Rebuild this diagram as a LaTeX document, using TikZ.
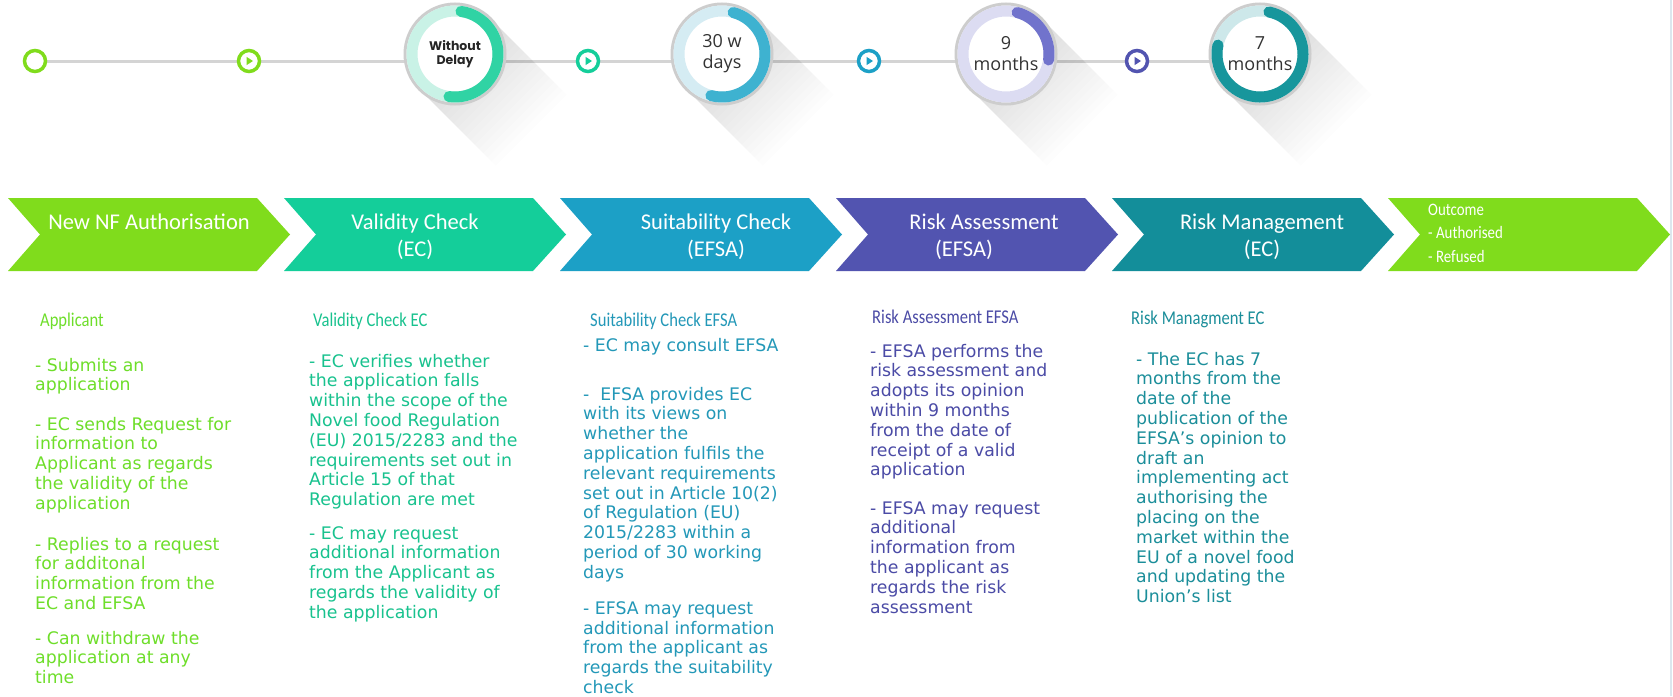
\documentclass[tikz,border=0pt]{standalone}
\usepackage{fontspec}
\setmainfont{DejaVu Sans}
\newfontfamily\headfont{Carlito}
\newfontfamily\condfont[FakeStretch=0.85]{Carlito}
\newfontfamily\popfont{Poppins}
\newfontfamily\numfont{Open Sans}
\definecolor{cLime}{HTML}{80DC1C}
\definecolor{cMint}{HTML}{14CE9A}
\definecolor{cSky}{HTML}{1CA0C6}
\definecolor{cIndigo}{HTML}{5254B0}
\definecolor{cTeal}{HTML}{138E9A}
\definecolor{tLime}{HTML}{6EDE2A}
\definecolor{tMint}{HTML}{18C28E}
\definecolor{tSky}{HTML}{2398B8}
\definecolor{tIndigo}{HTML}{4B4BA6}
\definecolor{tTeal}{HTML}{1B8E9A}
\definecolor{lineGray}{HTML}{D4D4D4}
\definecolor{ringGray}{HTML}{CDCDCD}
\definecolor{rimBlue}{HTML}{DCE6EE}
\definecolor{lMint}{HTML}{C9F2E6}
\definecolor{dMint}{HTML}{30D3A4}
\definecolor{lSky}{HTML}{D5ECF3}
\definecolor{dSky}{HTML}{3EB2D0}
\definecolor{lIndigo}{HTML}{DCDCF2}
\definecolor{dIndigo}{HTML}{7173CC}
\definecolor{lTeal}{HTML}{CDE8EA}
\definecolor{dTeal}{HTML}{17969C}
\tikzset{
  chevtext/.style={font=\headfont\fontsize{22.5}{26}\selectfont, text=white, inner sep=0, anchor=base},
  outtext/.style={font=\condfont\fontsize{17.5}{21}\selectfont, text=white, inner sep=0, anchor=base west},
  heading/.style={font=\condfont\fontsize{19.5}{22}\selectfont, anchor=base west, inner sep=0},
  body/.style={font=\fontsize{17.3}{19.8}\selectfont, anchor=base west, align=left, inner sep=0},
  tdot/.style={circle, draw=#1, line width=3.5pt, fill=white, minimum size=21pt, inner sep=0},
  dialrim/.style={circle, draw=ringGray, line width=3pt, fill=white, minimum size=100pt, inner sep=0},
  bigtxt/.style={font=\numfont\fontsize{18}{21}\selectfont, text=black!80, align=center, inner sep=0},
}
\newcommand\dialshadow[2]{%
  \foreach \L in {6,12,...,108}{%
    \fill[black, opacity=0.008] ({#1+35.4},{#2-35.4}) -- ++({\L*0.707},{\L*0.707}) -- ++(-70.8,70.8) -- ({#1-35.4},{#2+35.4}) -- cycle;}%
}
\newcommand\dialring[5]{% name, light, dark, start, end (visual degrees)
  \draw[#2, line width=11pt] (#1.center) circle[radius=43];
  \draw[#3, line width=11pt, line cap=round] (#1.center) ++({-1*(#4)}:43) arc[start angle={-1*(#4)}, end angle={-1*(#5)}, radius=43];
}
\newcommand\playmark[2]{%
  \fill[#2, shift={(#1.center)}] (-2.5,-4.2) -- (4,0) -- (-2.5,4.2) -- cycle;
}
\begin{document}
\begin{tikzpicture}[x=1pt,y=-1pt]
\useasboundingbox (0,0) rectangle (1673,696);
\fill[white] (0,0) rectangle (1673,696);
\draw[rimBlue, line width=1.5pt] (1671,0) -- (1671,696);

% ---------- timeline ----------
\coordinate (tstart) at (35,61);
\coordinate (tend) at (1260,61);
\draw[lineGray, line width=3pt] (tstart) -- (tend);

\dialshadow{455}{54}
\dialshadow{722}{54}
\dialshadow{1006}{54}
\dialshadow{1260}{54}

\node[dialrim] (b1) at (455,54) {};
\dialring{b1}{lMint}{dMint}{82}{-98}
\node[font=\popfont\bfseries\fontsize{12.5}{14}\selectfont, text=black!85, align=center, inner sep=0] (b1t) at (b1.center) {Without\\Delay};

\node[dialrim] (b2) at (722,54) {};
\dialring{b2}{lSky}{dSky}{75}{-105}
\node[bigtxt] (b2t) at (b2.center) {30 w\\days};

\node[dialrim] (b3) at (1006,54) {};
\dialring{b3}{lIndigo}{dIndigo}{75}{-8}
\node[bigtxt] (b3t) at (b3.center) {9\\months};

\node[dialrim] (b4) at (1260,54) {};
\dialring{b4}{lTeal}{dTeal}{78}{-192}
\node[bigtxt] (b4t) at (b4.center) {7\\months};

\node[tdot=cLime] (s1) at (35,61) {};
\node[tdot=cLime] (s2) at (249,61) {};
\playmark{s2}{cLime}
\node[tdot=cMint] (s3) at (588,61) {};
\playmark{s3}{cMint}
\node[tdot=cSky] (s4) at (869,61) {};
\playmark{s4}{cSky}
\node[tdot=cIndigo] (s5) at (1137,61) {};
\playmark{s5}{cIndigo}

% ---------- chevrons ----------
\foreach \x/\c in {8/cLime, 284/cMint, 560/cSky, 836/cIndigo, 1112/cTeal, 1388/cLime}{
  \fill[\c] (\x,198) -- ({\x+249},198) -- ({\x+282},234.5) -- ({\x+249},271) -- (\x,271) -- ({\x+32},234.5) -- cycle;
}
\node[chevtext] (c1a) at (149,229) {New NF Authorisation};
\node[chevtext] (c2a) at (415,229) {Validity Check};
\node[chevtext] (c2b) at (415,256) {(EC)};
\node[chevtext] (c3a) at (716,229) {Suitability Check};
\node[chevtext] (c3b) at (716,256) {(EFSA)};
\node[chevtext] (c4a) at (984,229) {Risk Assessment};
\node[chevtext] (c4b) at (964,256) {(EFSA)};
\node[chevtext] (c5a) at (1262,229) {Risk Management};
\node[chevtext] (c5b) at (1262,256) {(EC)};
\node[outtext] (c6a) at (1428,215) {Outcome};
\node[outtext] (c6b) at (1428,238) {- Authorised};
\node[outtext] (c6c) at (1428,262) {- Refused};

% ---------- column 1 (anchor = baseline of last line) ----------
\node[heading, text=tLime] (h1) at (40,326) {Applicant};
\node[body, text=tLime] (p11) at (35,390.8) {- Submits an\\application};
\node[body, text=tLime] (p12) at (35,509.2) {- EC sends Request for\\information to\\Applicant as regards\\the validity of the\\application};
\node[body, text=tLime] (p13) at (35,609.4) {- Replies to a request\\for additonal\\information from the\\EC and EFSA};
\node[body, text=tLime] (p14) at (35,683.6) {- Can withdraw the\\application at any\\time};

% ---------- column 2 ----------
\node[heading, text=tMint] (h2) at (313,326) {Validity Check EC};
\node[body, text=tMint] (p21) at (309,505.6) {- EC verifies whether\\the application falls\\within the scope of the\\Novel food Regulation\\(EU) 2015/2283 and the\\requirements set out in\\Article 15 of that\\Regulation are met};
\node[body, text=tMint] (p22) at (309,618.2) {- EC may request\\additional information\\from the Applicant as\\regards the validity of\\the application};

% ---------- column 3 ----------
\node[heading, text=tSky] (h3) at (590,326) {Suitability Check EFSA};
\node[body, text=tSky] (p31) at (583,351) {- EC may consult EFSA};
\node[body, text=tSky] (p32) at (583,578.2) {-\ \ EFSA provides EC\\with its views on\\whether the\\application fulfils the\\relevant requirements\\set out in Article 10(2)\\of Regulation (EU)\\2015/2283 within a\\period of 30 working\\days};
\node[body, text=tSky] (p33) at (583,693.5) {- EFSA may request\\additional information\\from the applicant as\\regards the suitability\\check};

% ---------- column 4 ----------
\node[heading, text=tIndigo] (h4) at (872,323) {Risk Assessment EFSA};
\node[body, text=tIndigo] (p41) at (870,475.8) {- EFSA performs the\\risk assessment and\\adopts its opinion\\within 9 months\\from the date of\\receipt of a valid\\application};
\node[body, text=tIndigo] (p42) at (870,613) {- EFSA may request\\additional\\information from\\the applicant as\\regards the risk\\assessment};

% ---------- column 5 ----------
\node[heading, text=tTeal] (h5) at (1131,324) {Risk Managment EC};
\node[body, text=tTeal] (p51) at (1136,602.6) {- The EC has 7\\months from the\\date of the\\publication of the\\EFSA’s opinion to\\draft an\\implementing act\\authorising the\\placing on the\\market within the\\EU of a novel food\\and updating the\\Union’s list};
\end{tikzpicture}
\end{document}
